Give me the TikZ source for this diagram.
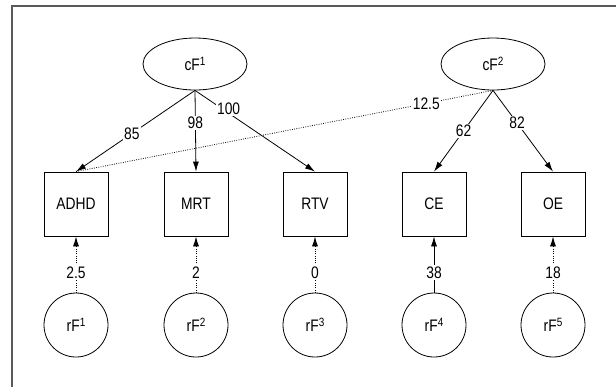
\documentclass[tikz,border=0pt]{standalone}
\usepackage{fontspec}
\setmainfont{Liberation Sans}[FakeStretch=0.83]
\usetikzlibrary{arrows.meta, shapes.geometric}
\newcommand{\supnum}[1]{\raisebox{0.6ex}{\fontsize{9}{9}\selectfont #1}}

\begin{document}
\begin{tikzpicture}[x=0.75pt,y=-0.75pt,line width=0.6pt,font=\fontsize{12.5}{14}\selectfont,
    >={Latex[length=7.5pt,width=4.5pt]}]
    \tikzstyle{common factor}=[ellipse,draw,minimum width=78pt,minimum height=39pt,inner sep=0pt]
    \tikzstyle{measure}=[rectangle,draw,minimum width=48pt,minimum height=48pt,inner sep=0pt]
    \tikzstyle{residual}=[circle,draw,minimum size=48pt,inner sep=0pt]
    \tikzstyle{loading}=[fill=white,inner sep=1pt]
    \tikzstyle{weak}=[dash pattern=on 0.6pt off 1.1pt]
    \useasboundingbox (0,0) rectangle (616,387);

    % frame
    \draw[line width=0.9pt, black!65] (616,6) -- (12,6) -- (12,387);

    \node[common factor] (cF-1) at (195,64) {cF\supnum{1}};
    \node[common factor] (cF-2) at (493,64) {cF\supnum{2}};

    \node[measure] (ADHD) at (76,204) {ADHD};
    \node[measure] (MRT) at (196,204) {MRT};
    \node[measure] (RTV) at (315,204) {RTV};
    \node[measure] (CE) at (434,204) {CE};
    \node[measure] (OE) at (553,204) {OE};

    \node[residual] (rF-1) at (76,325) {rF\supnum{1}};
    \node[residual] (rF-2) at (196,325) {rF\supnum{2}};
    \node[residual] (rF-3) at (315,325) {rF\supnum{3}};
    \node[residual] (rF-4) at (434,325) {rF\supnum{4}};
    \node[residual] (rF-5) at (553,325) {rF\supnum{5}};

    \draw[weak] (cF-2.south) -- node[loading, pos=0.16] {12.5} (ADHD.north);

    \draw[->] (cF-1.south) -- node[loading, pos=0.53] {85} (ADHD.north);
    \draw[->] (cF-1.south) -- node[loading, pos=0.4] {98} (MRT.north);
    \draw[->] (cF-1.south) -- node[loading, pos=0.28, yshift=3pt] {100} (RTV.north);
    \draw[->] (cF-2.south) -- node[loading, pos=0.5] {62} (CE.north);
    \draw[->] (cF-2.south) -- node[loading, pos=0.4] {82} (OE.north);

    \draw[->, weak] (rF-1) -- node[loading, pos=0.36] {2.5} (ADHD);
    \draw[->, weak] (rF-2) -- node[loading, pos=0.36] {2} (MRT);
    \draw[->, weak] (rF-3) -- node[loading, pos=0.36] {0} (RTV);
    \draw[->] (rF-4) -- node[loading, pos=0.36] {38} (CE);
    \draw[->, weak] (rF-5) -- node[loading, pos=0.36] {18} (OE);
\end{tikzpicture}
\end{document}
